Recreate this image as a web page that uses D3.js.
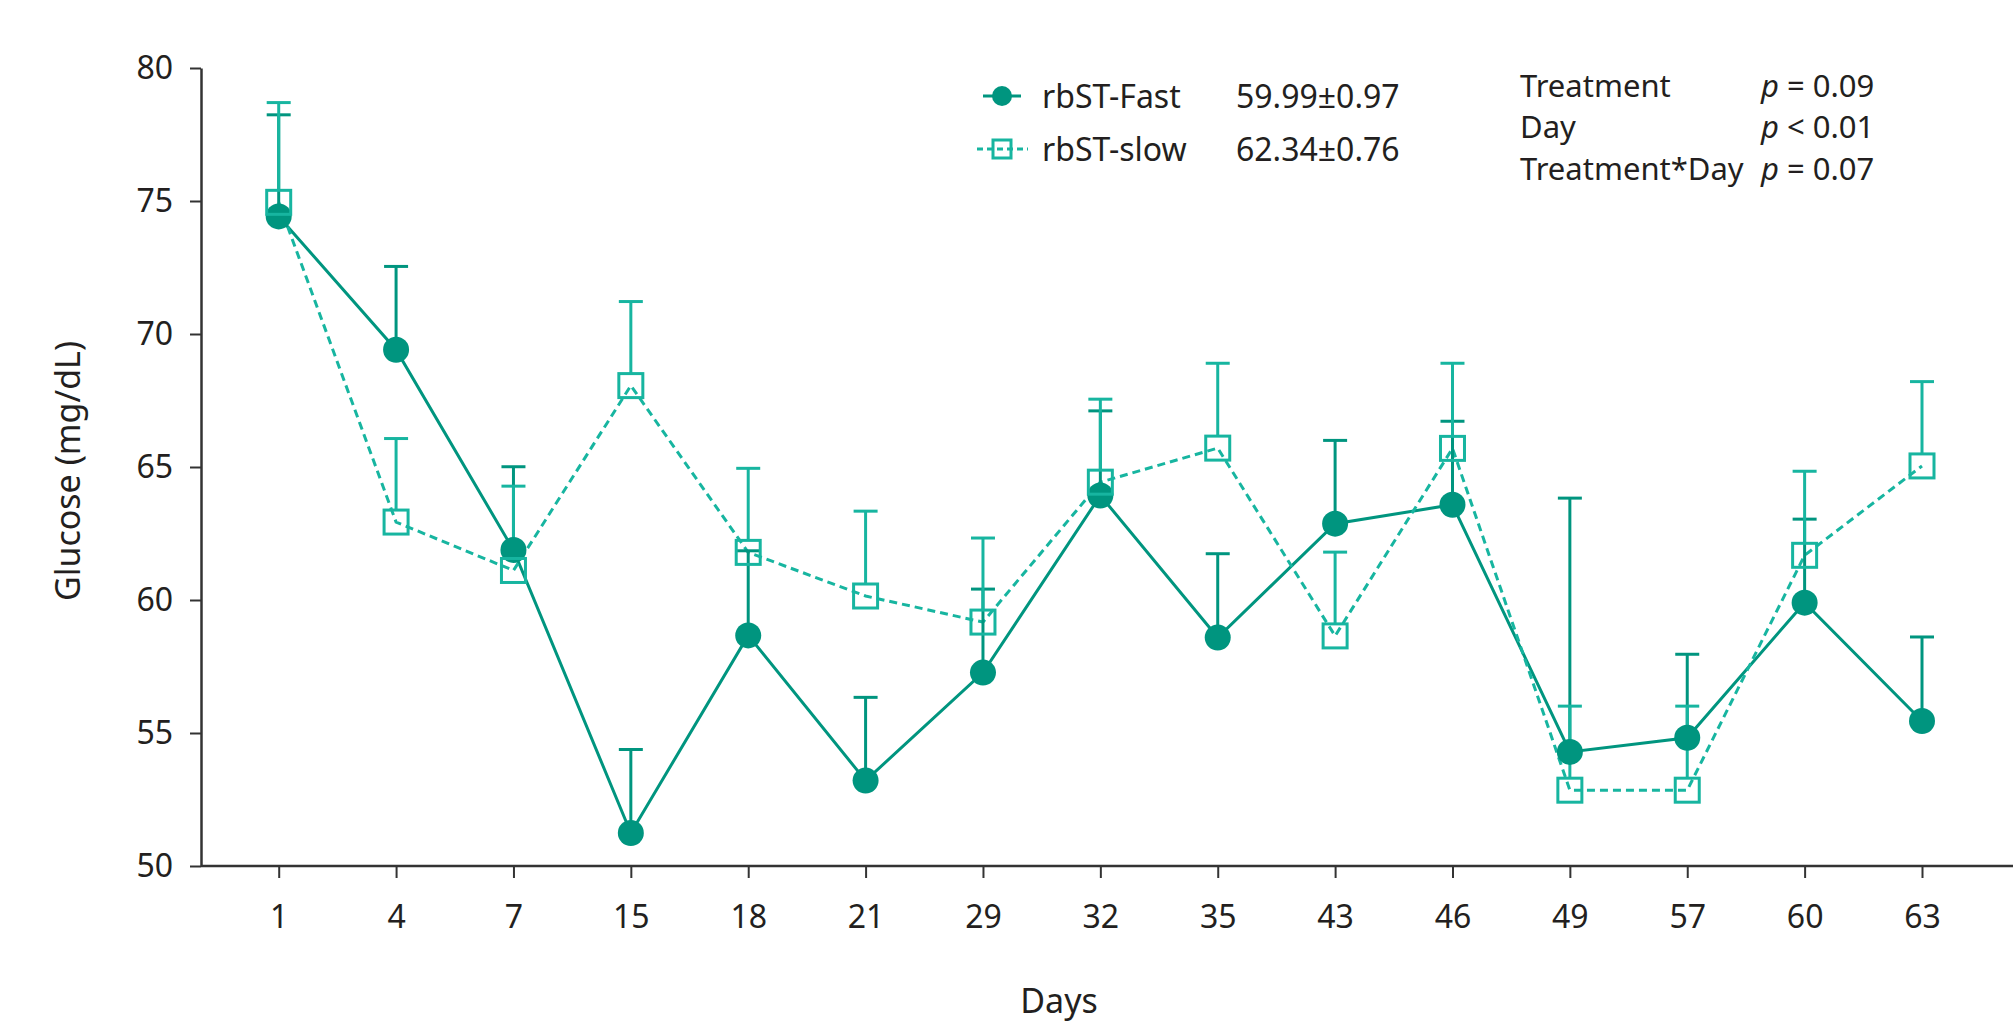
<!DOCTYPE html>
<html><head><meta charset="utf-8">
<script src="https://cdn.jsdelivr.net/npm/d3@7"></script>
<style>
html,body{margin:0;padding:0;background:#fff;}
svg{display:block;font-family:"Noto Sans",sans-serif;}
</style></head>
<body>
<svg id="chart" width="2013" height="1024"></svg>
<script>
const days = ["1","4","7","15","18","21","29","32","35","43","46","49","57","60","63"];
const fastMean = [74.42,69.41,61.88,51.24,58.67,53.21,57.27,63.93,58.59,62.87,63.58,54.29,54.82,59.90,55.45];
const fastSE   = [3.82,3.13,3.13,3.14,3.18,3.13,3.14,3.18,3.15,3.13,3.14,9.54,3.14,3.14,3.16];
const slowMean = [74.95,62.93,61.11,68.06,61.79,60.15,59.17,64.43,65.71,58.65,65.70,52.85,52.85,61.68,65.04];
const slowSE   = [3.75,3.14,3.17,3.16,3.16,3.19,3.16,3.12,3.19,3.15,3.20,3.16,3.16,3.16,3.17];
const yTicks = [50,55,60,65,70,75,80];
const legendLabels = ["rbST-Fast","rbST-slow"];
const legendValues = ["59.99\u00b10.97","62.34\u00b10.76"];
const statLabels = ["Treatment","Day","Treatment*Day"];
const statValues = [" = 0.09"," < 0.01"," = 0.07"];

const fastColor = "#00957f", slowColor = "#17b5a0", axisColor = "#333", textColor = "#231f20";
const svg = d3.select("#chart");
const W = 2013, H = 1024;
const axisX = 201, axisBottom = 866, axisTop = 68;

const x = d3.scalePoint().domain(days).range([278.7, 1922]);
const y = d3.scaleLinear().domain([50,80]).range([axisBottom, axisTop]);

// Y axis
const yAxis = svg.append("g").attr("transform",`translate(${axisX},0)`)
  .call(d3.axisLeft(y).tickValues(yTicks).tickSize(11).tickPadding(17).tickSizeOuter(0));
yAxis.select(".domain").attr("stroke",axisColor).attr("stroke-width",2.5);
yAxis.selectAll(".tick line").attr("stroke",axisColor).attr("stroke-width",2);
yAxis.selectAll(".tick text").attr("font-size",32).attr("fill",textColor).attr("font-family","Noto Sans");

// X axis
const xAxis = svg.append("g").attr("transform",`translate(0,${axisBottom})`)
  .call(d3.axisBottom(x).tickSize(12).tickPadding(27).tickSizeOuter(0));
xAxis.select(".domain").remove();
xAxis.append("line").attr("x1",axisX).attr("x2",W).attr("y1",0).attr("y2",0)
  .attr("stroke",axisColor).attr("stroke-width",2.5);
xAxis.selectAll(".tick line").attr("stroke",axisColor).attr("stroke-width",2);
xAxis.selectAll(".tick text").attr("font-size",32).attr("fill",textColor).attr("font-family","Noto Sans");

// Axis titles
svg.append("text").attr("x",1059).attr("y",1013).attr("text-anchor","middle")
  .attr("font-size",34).attr("fill",textColor).text("Days");
svg.append("text").attr("transform","translate(80,471) rotate(-90)").attr("text-anchor","middle")
  .attr("font-size",34).attr("fill",textColor).text("Glucose (mg/dL)");

const fastData = days.map((d,i)=>({d, m:fastMean[i], se:fastSE[i]}));
const slowData = days.map((d,i)=>({d, m:slowMean[i], se:slowSE[i]}));
const line = d3.line().x(p=>x(p.d)).y(p=>y(p.m));

const sq = 24, r = 13, capW = 24;

// lines
svg.append("path").datum(fastData).attr("d",line).attr("fill","none")
  .attr("stroke",fastColor).attr("stroke-width",3);
svg.append("path").datum(slowData).attr("d",line).attr("fill","none")
  .attr("stroke",slowColor).attr("stroke-width",3).attr("stroke-dasharray","8,5");

// error bars
function bars(data, color, startOffset){
  const g = svg.append("g").attr("stroke",color).attr("stroke-width",3);
  g.selectAll("line.v").data(data).join("line").attr("class","v")
    .attr("x1",p=>x(p.d)).attr("x2",p=>x(p.d))
    .attr("y1",p=>y(p.m)-startOffset).attr("y2",p=>y(p.m+p.se));
  g.selectAll("line.c").data(data).join("line").attr("class","c")
    .attr("x1",p=>x(p.d)-capW/2).attr("x2",p=>x(p.d)+capW/2)
    .attr("y1",p=>y(p.m+p.se)).attr("y2",p=>y(p.m+p.se));
}
bars(fastData, fastColor, 0);
bars(slowData, slowColor, sq/2);

// markers
svg.append("g").selectAll("circle").data(fastData).join("circle")
  .attr("cx",p=>x(p.d)).attr("cy",p=>y(p.m)).attr("r",r).attr("fill",fastColor);
svg.append("g").selectAll("rect").data(slowData).join("rect")
  .attr("x",p=>x(p.d)-sq/2).attr("y",p=>y(p.m)-sq/2).attr("width",sq).attr("height",sq)
  .attr("fill","none").attr("stroke",slowColor).attr("stroke-width",3);

// legend
const lg = svg.append("g");
const rowsY = [96, 149];
lg.append("line").attr("x1",983).attr("x2",1021).attr("y1",rowsY[0]).attr("y2",rowsY[0])
  .attr("stroke",fastColor).attr("stroke-width",3);
lg.append("circle").attr("cx",1002).attr("cy",rowsY[0]).attr("r",10).attr("fill",fastColor);
lg.append("line").attr("x1",977).attr("x2",1028).attr("y1",rowsY[1]).attr("y2",rowsY[1])
  .attr("stroke",slowColor).attr("stroke-width",3).attr("stroke-dasharray","6,4");
lg.append("rect").attr("x",1002-9).attr("y",rowsY[1]-9).attr("width",18).attr("height",18)
  .attr("fill","none").attr("stroke",slowColor).attr("stroke-width",3);
legendLabels.forEach((t,i)=>{
  lg.append("text").attr("x",1042).attr("y",rowsY[i]).attr("dy","0.36em")
    .attr("font-size",32).attr("fill",textColor).text(t);
  lg.append("text").attr("x",1236).attr("y",rowsY[i]).attr("dy","0.36em")
    .attr("font-size",32).attr("fill",textColor).text(legendValues[i]);
});

// stats
const stY = [86, 127, 169];
statLabels.forEach((t,i)=>{
  svg.append("text").attr("x",1520).attr("y",stY[i]).attr("dy","0.36em")
    .attr("font-size",31).attr("fill",textColor).text(t);
  const tv = svg.append("text").attr("x",1761).attr("y",stY[i]).attr("dy","0.36em")
    .attr("font-size",31).attr("fill",textColor);
  tv.append("tspan").attr("font-style","italic").text("p");
  tv.append("tspan").text(statValues[i]);
});
</script>
</body></html>
